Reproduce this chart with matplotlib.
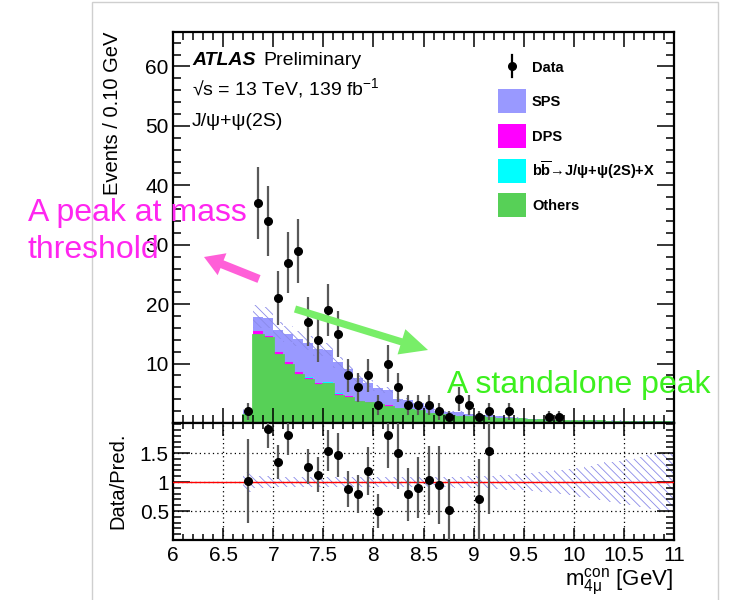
import numpy as np
import matplotlib
matplotlib.use("Agg")
import matplotlib.pyplot as plt
from matplotlib.patches import Rectangle, FancyArrowPatch
from matplotlib.lines import Line2D
from matplotlib.ticker import MultipleLocator, FixedLocator, FormatStrFormatter

plt.rcParams['font.family'] = ['Liberation Sans', 'DejaVu Sans']
plt.rcParams['mathtext.fontset'] = 'custom'
plt.rcParams['mathtext.rm'] = 'Liberation Sans'
plt.rcParams['mathtext.it'] = 'Liberation Sans:italic'
plt.rcParams['mathtext.bf'] = 'Liberation Sans:bold'
plt.rcParams['hatch.linewidth'] = 0.6

# bins of 0.10 GeV from 6 to 11 GeV
x_lo, x_hi, n_bins = 6.0, 11.0, 50

# observed events per bin
data = [0, 0, 0, 0, 0, 0, 0, 2, 37, 34,
        21, 27, 29, 17, 14, 19, 15, 8, 6, 8,
        3, 10, 6, 3, 3, 3, 2, 1, 4, 3,
        1, 2, 0, 2, 0, 0, 0, 1, 1, 0,
        0, 0, 0, 0, 0, 0, 0, 0, 0, 0]

# stacked predictions
others = [0, 0, 0, 0, 0, 0, 0, 1.3, 14.8, 14.3,
          11.4, 9.8, 8.1, 7.3, 6.4, 6.5, 4.6, 4.25, 3.6, 3.4,
          3.0, 2.7, 2.3, 2.2, 2.0, 1.5, 1.4, 1.1, 1.05, 1.0,
          0.95, 0.8, 0.7, 0.65, 0.6, 0.5, 0.45, 0.38, 0.35, 0.32,
          0.3, 0.28, 0.26, 0.24, 0.22, 0.2, 0.19, 0.18, 0.17, 0.16]
dps = [0, 0, 0, 0, 0, 0, 0, 0.05, 0.6, 0.4,
       0.6, 0.4, 0.45, 0.35, 0.3, 0.3, 0.35, 0.25, 0.15, 0.15,
       0.1, 0.3, 0.05, 0.05, 0.05, 0.05, 0.03, 0.03, 0.03, 0.02,
       0.02, 0.02, 0.02, 0.02, 0.01, 0.01, 0.01, 0.01, 0.01, 0,
       0, 0, 0, 0, 0, 0, 0, 0, 0, 0]
bb = [0, 0, 0, 0, 0, 0, 0, 0, 0.02, 0.02,
      0.02, 0.02, 0.02, 0.02, 0.02, 0.02, 0.02, 0.02, 0.01, 0.01,
      0.01, 0.01, 0.01, 0.01, 0.01, 0.01, 0, 0, 0, 0,
      0, 0, 0, 0, 0, 0, 0, 0, 0, 0,
      0, 0, 0, 0, 0, 0, 0, 0, 0, 0]
sps = [0, 0, 0, 0, 0, 0, 0, 0.6, 2.5, 3.0,
       3.6, 4.7, 5.65, 5.75, 5.7, 5.5, 5.25, 4.6, 3.75, 3.15,
       2.8, 2.5, 1.65, 1.55, 1.25, 1.35, 0.67, 0.77, 0.72, 0.43,
       0.46, 0.48, 0.38, 0.28, 0.24, 0.19, 0.14, 0.09, 0.09, 0.1,
       0.1, 0.1, 0.1, 0.1, 0.1, 0.1, 0.1, 0.1, 0.1, 0.1]

# relative uncertainty of the total prediction
rel_unc = [0, 0, 0, 0, 0, 0, 0, 0.17, 0.11, 0.1,
           0.09, 0.09, 0.09, 0.09, 0.09, 0.09, 0.09, 0.09, 0.09, 0.09,
           0.09, 0.09, 0.09, 0.09, 0.09, 0.09, 0.09, 0.09, 0.095, 0.1,
           0.1, 0.11, 0.12, 0.13, 0.14, 0.15, 0.17, 0.19, 0.21, 0.23,
           0.25, 0.28, 0.31, 0.34, 0.37, 0.4, 0.43, 0.46, 0.49, 0.52]

x_ticks = [6, 6.5, 7, 7.5, 8, 8.5, 9, 9.5, 10, 10.5, 11]
y_ticks = [10, 20, 30, 40, 50, 60]
r_ticks = [0.5, 1, 1.5]

legend_names = ["SPS", "DPS",
                r"$\mathbf{b}\overline{\mathbf{b}}$→J/ψ+ψ(2S)+X", "Others"]
c_sps, c_dps, c_bb, c_oth = '#9999ff', '#ff00ff', '#00ffff', '#57d057'
c_hatch = '#8a8ae8'

W, H = 738, 600
fig = plt.figure(figsize=(W / 100, H / 100), dpi=100)


def fx(x):
    return x / W


def fy(y):
    return 1 - y / H


def inch(x, y):
    # picture pixel (from top-left) to inches from bottom-left
    return (x / 100, (H - y) / 100)


edges = np.linspace(x_lo, x_hi, n_bins + 1)
centers = 0.5 * (edges[:-1] + edges[1:])
data = np.array(data, float)
c1 = np.array(others)
c2 = c1 + np.array(dps)
c3 = c2 + np.array(bb)
c4 = c3 + np.array(sps)
unc = np.array(rel_unc)

ax = fig.add_axes([fx(173), fy(423), (674 - 173) / W, (423 - 32) / H])
rax = fig.add_axes([fx(173), fy(540), (674 - 173) / W, (540 - 423) / H])

# ---- main panel
ax.stairs(c4, edges, baseline=0, fill=True, color=c_sps, lw=0)
ax.stairs(c3, edges, baseline=0, fill=True, color=c_bb, lw=0)
ax.stairs(c2, edges, baseline=0, fill=True, color=c_dps, lw=0)
ax.stairs(c1, edges, baseline=0, fill=True, color=c_oth, lw=0)
ax.stairs(c1, edges, baseline=None, color=c_oth, lw=2)
ax.stairs(c4 * (1 + unc), edges, baseline=c4 * (1 - unc), fill=True,
          facecolor='none', edgecolor=c_hatch, hatch='\\\\\\\\', lw=0)

m = data > 0
ax.errorbar(centers[m], data[m], yerr=np.sqrt(data[m]), fmt='o', color='black',
            ms=5.5, ecolor='0.35', elinewidth=1.6, capsize=0, zorder=5)

ax.set_xlim(x_lo, x_hi)
ax.set_ylim(0, 65.8)
ax.xaxis.set_major_locator(FixedLocator(x_ticks))
ax.xaxis.set_minor_locator(MultipleLocator(0.1))
ax.yaxis.set_major_locator(FixedLocator(y_ticks))
ax.yaxis.set_minor_locator(MultipleLocator(2))
ax.tick_params(which='both', direction='in', top=True, right=True,
               labelbottom=False, labelsize=15, pad=3, width=1.1)
ax.tick_params(axis='y', which='major', length=12)
ax.tick_params(axis='y', which='minor', length=6)
ax.tick_params(axis='x', which='major', length=11)
ax.tick_params(axis='x', which='minor', length=5.5)

# ---- ratio panel
pred = c4
ratio = np.zeros(n_bins)
ratio[pred > 0] = data[pred > 0] / pred[pred > 0]
show = (data > 0) & (ratio <= 2.0)
rax.stairs(1 + unc, edges, baseline=1 - unc, fill=True, facecolor='none',
           edgecolor=c_hatch, hatch='\\\\\\\\', lw=0)
rax.axhline(1, color='red', lw=1, zorder=3)
rax.errorbar(centers[show], ratio[show], yerr=ratio[show] / np.sqrt(data[show]),
             fmt='o', color='black', ms=5.5, ecolor='0.35', elinewidth=1.6,
             capsize=0, zorder=5)

rax.set_xlim(x_lo, x_hi)
rax.set_ylim(0, 2.02)
rax.xaxis.set_major_locator(FixedLocator(x_ticks))
rax.xaxis.set_minor_locator(MultipleLocator(0.1))
rax.xaxis.set_major_formatter(FormatStrFormatter('%g'))
rax.yaxis.set_major_locator(FixedLocator(r_ticks))
rax.yaxis.set_major_formatter(FormatStrFormatter('%g'))
rax.yaxis.set_minor_locator(MultipleLocator(0.1))
rax.grid(True, which='major', ls=(0, (1, 2.5)), color='black', lw=0.9)
rax.tick_params(which='both', direction='in', top=True, right=True,
                labelsize=15, width=1.1)
rax.tick_params(axis='x', which='both', pad=4)
rax.tick_params(axis='y', which='major', length=12, pad=3)
rax.tick_params(axis='y', which='minor', length=6)
rax.tick_params(axis='x', which='major', length=9)
rax.tick_params(axis='x', which='minor', length=4.5)

for a in (ax, rax):
    for s in a.spines.values():
        s.set_linewidth(1.6)

# ---- axis titles
fig.text(fx(113), fy(32), "Events / 0.10 GeV", rotation=90, ha='center',
         va='top', fontsize=14.5)
fig.text(fx(118), fy(481), "Data/Pred.", rotation=90, ha='center',
         va='center', fontsize=14.5)
fig.text(fx(673), fy(582), r"m$_{\mathrm{4μ}}^{\mathrm{con}}$ [GeV]", ha='right',
         va='center', fontsize=16)

# ---- ATLAS labels
fig.text(fx(192), fy(65), "ATLAS", fontsize=14, weight='bold',
         style='italic', va='baseline')
fig.text(fx(263), fy(65), "Preliminary", fontsize=14, va='baseline')
fig.text(fx(192), fy(95), "√s = 13 TeV, 139 fb$^{-1}$", fontsize=14,
         va='baseline')
fig.text(fx(192), fy(126), "J/ψ+ψ(2S)", fontsize=14, va='baseline')

# ---- legend
fig.add_artist(Line2D([fx(512), fx(512)], [fy(55), fy(77)], color='black',
                      lw=1.6))
fig.add_artist(Line2D([fx(512)], [fy(66)], marker='o', color='black', ms=5.5))
fig.text(fx(532), fy(72), "Data", fontsize=10.5, weight='bold', va='baseline')
leg_y = [101, 136, 171, 205]
for name, col, y in zip(legend_names, [c_sps, c_dps, c_bb, c_oth], leg_y):
    fig.add_artist(Rectangle((fx(498), fy(y + 12)), 28 / W, 24 / H,
                             transform=fig.transFigure, color=col, lw=0))
    fig.text(fx(532), fy(y + 5), name, fontsize=10.5, weight='bold',
             va='baseline')

# ---- light frame of the pasted canvas
fig.add_artist(Rectangle((fx(92), -0.01), (718 - 92) / W, fy(2) + 0.01,
                         transform=fig.transFigure, fill=False,
                         edgecolor='#cfcfcf', lw=1))

# ---- hand-drawn notes
fig.text(fx(28), fy(213), "A peak at mass", color='#ff26f0', fontsize=23,
         va='center', zorder=10)
fig.text(fx(28), fy(250), "threshold", color='#ff26f0', fontsize=23,
         va='center', zorder=10)
fig.text(fx(447), fy(385), "A standalone peak", color='#3cf01e', fontsize=23,
         va='center', zorder=10)

arr1 = FancyArrowPatch(inch(259, 279), inch(204, 257),
                       arrowstyle='simple,head_length=0.7,head_width=0.85,tail_width=0.3',
                       mutation_scale=20, color='#ff5fd8', lw=0,
                       transform=fig.dpi_scale_trans, shrinkA=0, shrinkB=0,
                       zorder=9)
arr2 = FancyArrowPatch(inch(295, 309), inch(428, 350),
                       arrowstyle='simple,head_length=1.0,head_width=0.95,tail_width=0.26',
                       mutation_scale=20, color='#78ee68', lw=0,
                       transform=fig.dpi_scale_trans, shrinkA=0, shrinkB=0,
                       zorder=9)
fig.add_artist(arr1)
fig.add_artist(arr2)

fig.savefig("out.png", dpi=100)
